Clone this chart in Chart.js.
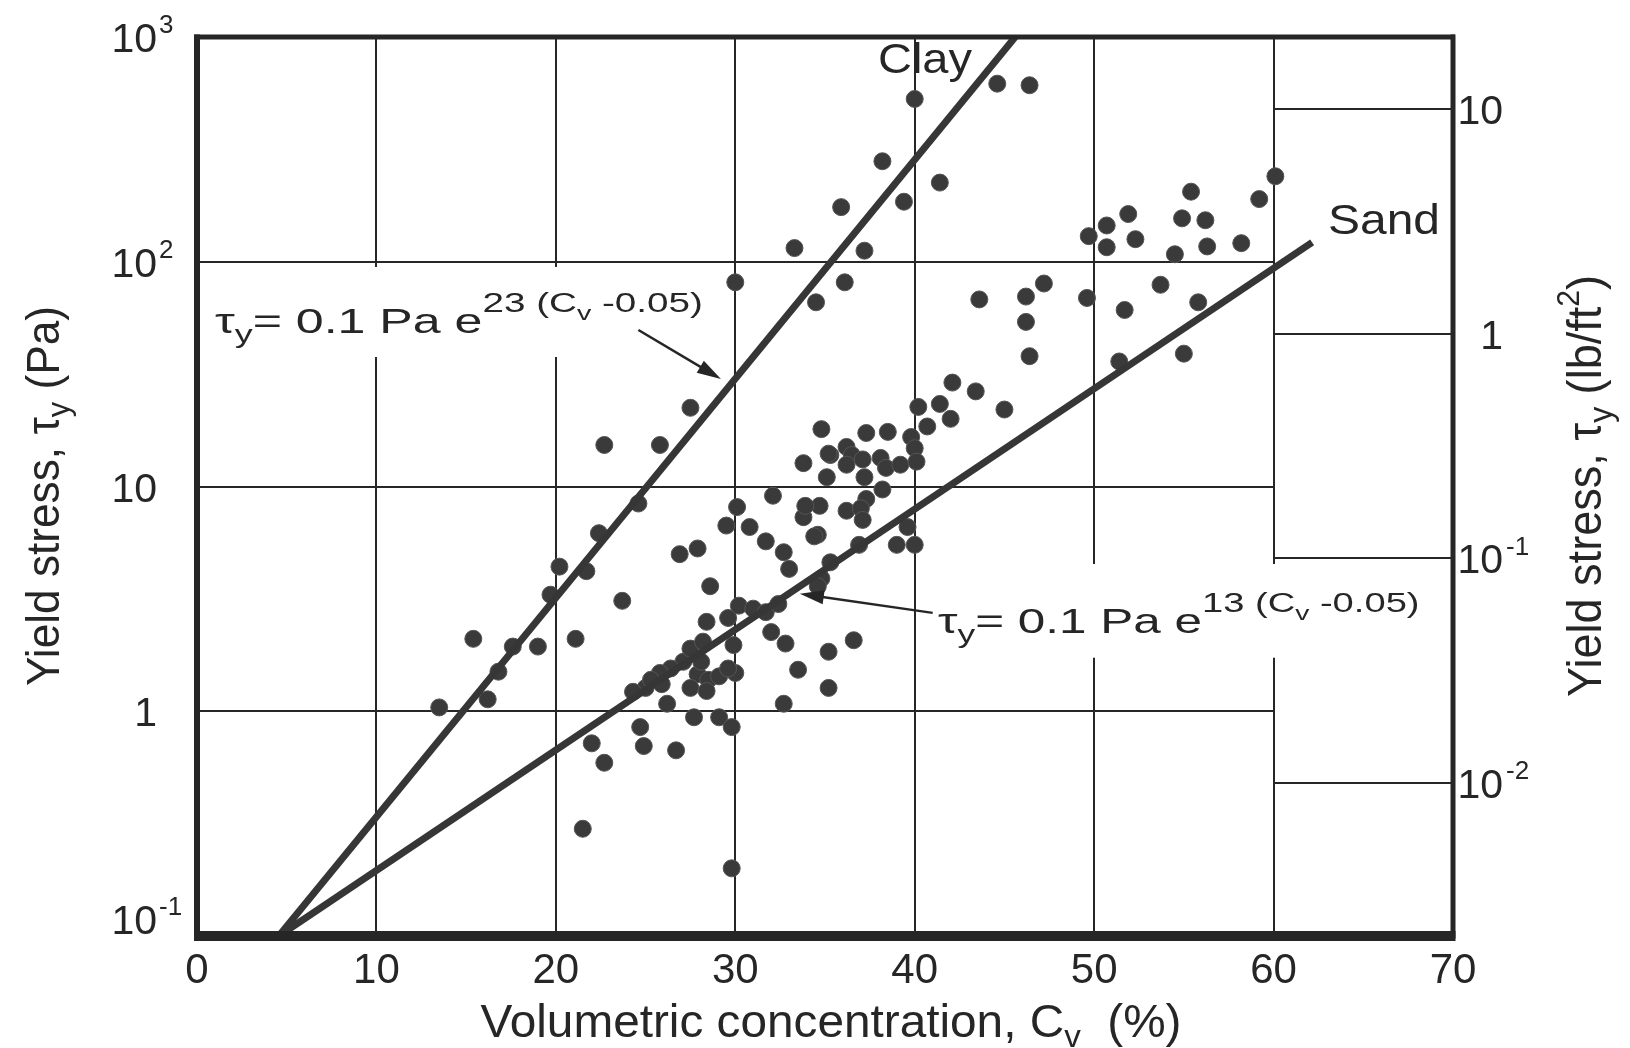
<!DOCTYPE html>
<html>
<head>
<meta charset="utf-8">
<script src="https://cdn.jsdelivr.net/npm/chart.js@4.4.0/dist/chart.umd.min.js"></script>
<style>
body { margin: 0; background: #fff; }
#wrap { width: 1630px; height: 1048px; position: relative; }
</style>
</head>
<body>
<div id="wrap"><canvas id="chart"></canvas></div>
<script>
// measured points: volumetric concentration (%) and yield stress (Pa)
var cvValues = [
    40.0, 44.6, 46.4, 38.2, 41.4, 39.4, 35.9, 33.3, 37.2, 36.1, 34.5, 30.0, 43.6, 46.2, 47.2, 46.2, 46.4,
    60.1, 55.4, 59.2, 51.9, 50.7, 54.9, 56.2, 49.7, 50.7, 52.3, 54.5, 56.3, 58.2, 49.6, 53.7, 51.7, 55.8, 55.0, 51.4,
    42.1, 43.4, 45.0, 40.2, 41.4, 42.0, 40.7, 34.8, 37.3, 38.5, 39.8, 40.0, 36.2, 36.5, 35.3, 36.2, 37.1, 38.1, 38.4,
    39.2, 40.1, 35.1, 37.2, 38.2, 37.3, 34.7, 36.2, 37.0, 37.1, 34.6, 36.9, 39.6, 39.0, 40.0, 35.3, 34.8, 35.2,
    27.5, 25.8, 22.7, 24.6, 22.4, 23.7, 26.9, 27.9, 28.6, 29.5, 30.1, 30.8, 31.7, 32.7, 33.0, 32.1, 33.8, 33.9, 34.4, 33.8, 34.6,
    20.2, 21.7, 15.4, 19.0, 21.1, 19.7, 17.6, 16.8, 16.2, 13.5,
    22.0, 22.7, 24.7, 24.9, 25.0, 26.7, 26.2, 27.7, 29.1, 29.8, 21.5, 29.8,
    36.6, 35.2, 33.5, 35.2, 32.8, 32.0, 32.7, 30.0, 29.9, 28.4, 29.6, 30.2, 31.0, 31.7, 32.4,
    27.1, 27.9, 28.5, 29.1, 27.5, 28.4, 25.9, 26.4, 29.6, 28.1, 27.5, 28.2, 25.8, 24.3, 25.3
];
var tauValues = [
    530, 620, 610, 280, 225, 185, 175, 115, 112, 81, 66, 81, 68, 70, 80, 54, 38,
    240, 205, 190, 163, 145, 156, 153, 130, 116, 126, 108, 117, 121, 69, 79, 61, 66, 39, 36,
    29, 26.5, 22, 22.6, 23.3, 20, 18.5, 18, 17.3, 17.5, 16.6, 14.8, 15, 13.8, 13.8, 12.5, 13.2, 13.4, 12.1,
    12.5, 12.9, 11, 11, 9.7, 8.8, 8.2, 7.8, 8.0, 7.1, 6.1, 5.5, 6.6, 5.5, 5.5, 4.6, 3.9, 14,
    22.4, 15.3, 15.3, 8.4, 6.2, 3.1, 5.0, 5.3, 3.6, 6.7, 8.1, 6.6, 5.7, 5.1, 4.3, 9.1, 7.3, 8.2, 6.0, 12.7, 3.6,
    4.4, 4.2, 2.1, 1.94, 2.1, 3.3, 1.94, 1.5, 1.13, 1.04,
    0.72, 0.59, 0.85, 0.70, 1.27, 0.67, 1.08, 0.94, 0.94, 0.85, 0.30, 0.20,
    2.07, 1.84, 1.53, 1.27, 2.0, 2.25, 1.08, 1.48, 1.97, 2.5, 2.6, 2.95, 2.86, 2.76, 3.0,
    1.66, 1.46, 1.38, 1.43, 1.27, 1.23, 1.32, 1.55, 1.55, 1.66, 1.9, 2.04, 1.48, 1.22, 1.38
];

// fitted lines, end points
var clayLineCv = [4.56, 45.6];
var clayLineTau = [0.1, 1000];
var sandLineCv = [4.56, 62.15];
var sandLineTau = [0.1, 122];

// axes
var gridCv = [10, 20, 30, 40, 50, 60];
var leftGrid = [1, 10, 100];
var leftTicks = [0.1, 1, 10, 100, 1000];
var leftTickText = [['10', '-1'], ['1', ''], ['10', ''], ['10', '2'], ['10', '3']];
var rightTicks = [0.01, 0.1, 1, 10];
var rightTickText = [['10', '-2'], ['10', '-1'], ['1', ''], ['10', '']];
var paPerPsf = 47.88;

var FONT = "'Liberation Sans', Arial, Helvetica, sans-serif";
var INK = '#262626';

var points = cvValues.map(function (cv, i) { return { x: cv, y: tauValues[i] }; });
var clayLine = clayLineCv.map(function (cv, i) { return { x: cv, y: clayLineTau[i] }; });
var sandLine = sandLineCv.map(function (cv, i) { return { x: cv, y: sandLineTau[i] }; });

// draw text made of parts: [text, kind] kind 0 normal, 1 sub, 2 sup, 3 sub inside sup
function drawRich(ctx, parts, x, y, size, align, target, kinds) {
    kinds = kinds || [[1, 0], [0.7, 0.22], [0.66, -0.46], [0.55, -0.3]];
    var widths = parts.map(function (p) {
        ctx.font = Math.round(size * kinds[p[1]][0]) + 'px ' + FONT;
        return ctx.measureText(p[0]).width;
    });
    var total = widths.reduce(function (s, w) { return s + w; }, 0);
    var sx = target ? target / total : 1;
    ctx.save();
    ctx.translate(x, y);
    ctx.scale(sx, 1);
    ctx.textAlign = 'left';
    ctx.textBaseline = 'alphabetic';
    var cx = align === 'center' ? -total / 2 : (align === 'right' ? -total : 0);
    parts.forEach(function (p, i) {
        ctx.font = Math.round(size * kinds[p[1]][0]) + 'px ' + FONT;
        ctx.fillText(p[0], cx, size * kinds[p[1]][1]);
        cx += widths[i];
    });
    ctx.restore();
}

function arrow(ctx, x1, y1, x2, y2) {
    var ang = Math.atan2(y2 - y1, x2 - x1);
    ctx.beginPath();
    ctx.moveTo(x1, y1);
    ctx.lineTo(x2 - 14 * Math.cos(ang), y2 - 14 * Math.sin(ang));
    ctx.stroke();
    ctx.beginPath();
    ctx.moveTo(x2, y2);
    ctx.lineTo(x2 - 24 * Math.cos(ang) + 7 * Math.sin(ang), y2 - 24 * Math.sin(ang) - 7 * Math.cos(ang));
    ctx.lineTo(x2 - 24 * Math.cos(ang) - 7 * Math.sin(ang), y2 - 24 * Math.sin(ang) + 7 * Math.cos(ang));
    ctx.closePath();
    ctx.fill();
}

var paperPlugin = {
    id: 'paper',
    beforeDatasetsDraw: function (chart) {
        var ctx = chart.ctx, a = chart.chartArea;
        var sx = chart.scales.x, sy = chart.scales.y, sy2 = chart.scales.y2;
        var x60 = sx.getPixelForValue(60);
        ctx.save();
        ctx.strokeStyle = INK;
        ctx.lineWidth = 2;
        ctx.beginPath();
        gridCv.forEach(function (v) {
            var px = Math.round(sx.getPixelForValue(v));
            ctx.moveTo(px, a.top); ctx.lineTo(px, a.bottom);
        });
        leftGrid.forEach(function (v) {
            var py = Math.round(sy.getPixelForValue(v));
            ctx.moveTo(a.left, py); ctx.lineTo(x60, py);
        });
        rightTicks.forEach(function (v) {
            var py = Math.round(sy2.getPixelForValue(v));
            ctx.moveTo(x60, py); ctx.lineTo(a.right, py);
        });
        ctx.stroke();
        // gaps in the grid behind the two formulas
        ctx.fillStyle = '#fff';
        var b1x = sx.getPixelForValue(0.62), b1r = sx.getPixelForValue(28.9);
        var b1t = sy.getPixelForValue(94.8), b1b = sy.getPixelForValue(37.7);
        ctx.fillRect(b1x, b1t, b1r - b1x, b1b - b1t);
        var b2x = sx.getPixelForValue(41.17), b2r = sx.getPixelForValue(68.5);
        var b2t = sy.getPixelForValue(4.52), b2b = sy.getPixelForValue(1.73);
        ctx.fillRect(b2x, b2t, b2r - b2x, b2b - b2t);
        ctx.restore();
    },
    afterDatasetsDraw: function (chart) {
        var ctx = chart.ctx, a = chart.chartArea;
        var sx = chart.scales.x, sy = chart.scales.y, sy2 = chart.scales.y2;
        ctx.save();
        ctx.fillStyle = INK;
        ctx.strokeStyle = INK;

        // frame
        ctx.fillRect(a.left - 3, a.top - 2.5, 6, a.bottom - a.top + 5);
        ctx.fillRect(a.left - 3, a.top - 2.5, a.right - a.left + 5, 5);
        ctx.fillRect(a.left - 3, a.bottom - 5, a.right - a.left + 5.5, 10);
        ctx.fillRect(a.right - 2.5, a.top - 2.5, 5, a.bottom - a.top + 5);

        // left ticks
        var tickKinds = [[1, 0], [0.7, 0.22], [0.64, -0.46], [0.55, -0.3]];
        leftTicks.forEach(function (v, i) {
            var py = sy.getPixelForValue(v);
            var base = Math.min(py + 15, a.bottom - 2);
            drawRich(ctx, [[leftTickText[i][0], 0]], 157, base, 41, 'right');
            if (leftTickText[i][1]) drawRich(ctx, [[leftTickText[i][1], 2]], 159, base, 41, 'left', 0, tickKinds);
        });
        // right ticks (lb/ft2)
        rightTicks.forEach(function (v, i) {
            var py = sy2.getPixelForValue(v);
            var base = py + 15;
            drawRich(ctx, [[rightTickText[i][0], 0]], 1503, base, 41, 'right');
            if (rightTickText[i][1]) drawRich(ctx, [[rightTickText[i][1], 2]], 1506, base, 41, 'left', 0, tickKinds);
        });

        // axis titles
        drawRich(ctx, [['Volumetric concentration, C', 0], ['v', 1], ['  (%)', 0]], 831, 1037, 46, 'center', 701);
        ctx.save();
        ctx.translate(59, 496);
        ctx.rotate(-Math.PI / 2);
        drawRich(ctx, [['Yield stress, \u03c4', 0], ['y', 1], [' (Pa)', 0]], 0, 0, 46, 'center', 380);
        ctx.restore();
        ctx.save();
        ctx.translate(1601, 486);
        ctx.rotate(-Math.PI / 2);
        drawRich(ctx, [['Yield stress, \u03c4', 0], ['y', 1], [' (lb/ft', 0], ['2', 2], [')', 0]], 0, 0, 48, 'center', 422);
        ctx.restore();

        // line names
        drawRich(ctx, [['Clay', 0]], 878, 73, 42, 'left', 94);
        drawRich(ctx, [['Sand', 0]], 1328, 234, 43, 'left', 112);

        // formulas
        var fKinds = [[1, 0], [0.72, 0.3], [0.78, -0.6], [0.56, -0.38]];
        drawRich(ctx, [['\u03c4', 0], ['y', 1], ['= 0.1 Pa e', 0], ['23 (C', 2], ['v', 3], [' -0.05)', 2]],
            sx.getPixelForValue(1.0), sy.getPixelForValue(48.2), 35, 'left', 488, fKinds);
        drawRich(ctx, [['\u03c4', 0], ['y', 1], ['= 0.1 Pa e', 0], ['13 (C', 2], ['v', 3], [' -0.05)', 2]],
            sx.getPixelForValue(41.3), sy.getPixelForValue(2.23), 35, 'left', 481.5, fKinds);

        // arrows from formulas to lines
        ctx.lineWidth = 2.5;
        arrow(ctx, sx.getPixelForValue(24.6), sy.getPixelForValue(49.7), sx.getPixelForValue(29.2), sy.getPixelForValue(30.1));
        arrow(ctx, sx.getPixelForValue(41.0), sy.getPixelForValue(2.74), sx.getPixelForValue(33.6), sy.getPixelForValue(3.33));
        ctx.restore();
    }
};

var ctxChart = document.getElementById('chart').getContext('2d');

var chart = new Chart(ctxChart, {
    type: 'scatter',
    data: {
        datasets: [
            {
                label: 'Clay fit',
                data: clayLine,
                showLine: true,
                borderColor: '#363636',
                borderWidth: 7,
                pointRadius: 0,
                order: 1
            },
            {
                label: 'Sand fit',
                data: sandLine,
                showLine: true,
                borderColor: '#363636',
                borderWidth: 7,
                pointRadius: 0,
                order: 2
            },
            {
                label: 'Data',
                data: points,
                backgroundColor: '#3a3a3a',
                borderColor: '#555',
                borderWidth: 1,
                pointRadius: 8.5,
                order: 3
            }
        ]
    },
    options: {
        responsive: true,
        maintainAspectRatio: false,
        animation: false,
        layout: { padding: { top: 37, left: 0, right: 0, bottom: 0 } },
        plugins: {
            legend: { display: false },
            tooltip: { enabled: false }
        },
        scales: {
            x: {
                type: 'linear',
                min: 0,
                max: 70,
                grid: { display: false },
                border: { display: false },
                ticks: {
                    stepSize: 10,
                    padding: 2,
                    color: INK,
                    font: { family: FONT, size: 42 }
                },
                afterFit: function (s) { s.height = 112; }
            },
            y: {
                type: 'logarithmic',
                position: 'left',
                min: 0.1,
                max: 1000,
                grid: { display: false },
                border: { display: false },
                ticks: { display: false },
                afterFit: function (s) { s.width = 197; }
            },
            y2: {
                type: 'logarithmic',
                position: 'right',
                min: 0.1 / paPerPsf,
                max: 1000 / paPerPsf,
                grid: { display: false },
                border: { display: false },
                ticks: { display: false },
                afterFit: function (s) { s.width = 177; }
            }
        }
    },
    plugins: [paperPlugin]
});
</script>
</body>
</html>
